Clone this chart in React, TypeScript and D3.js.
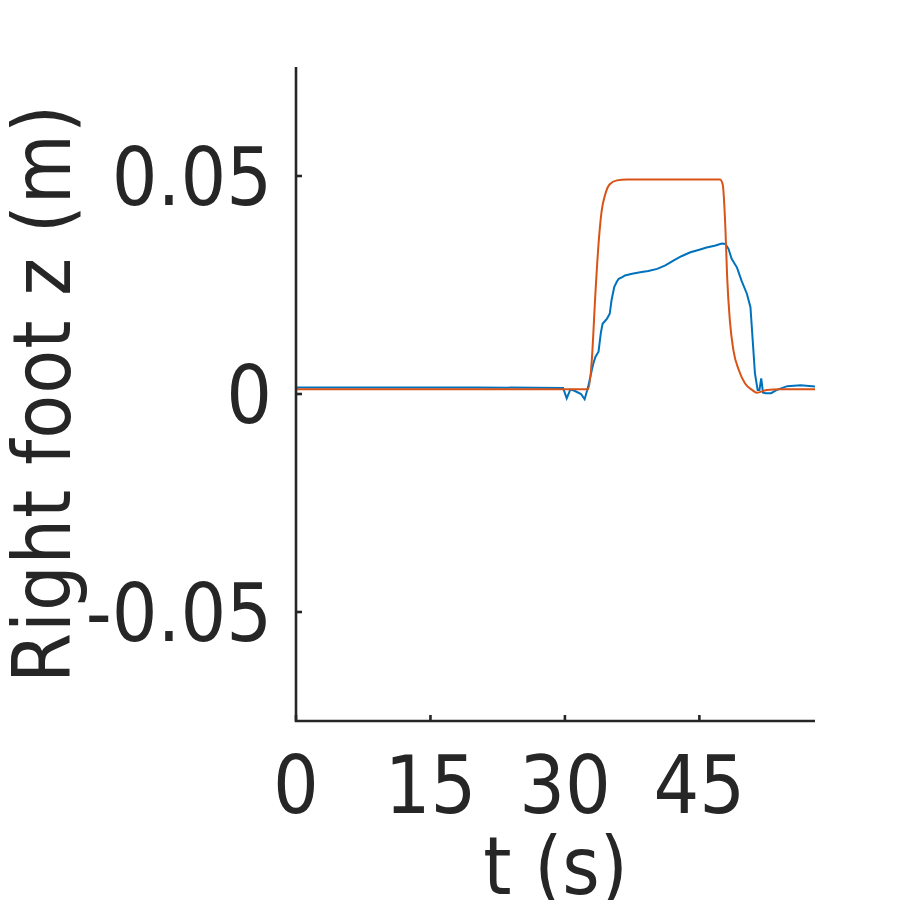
import React from "react";
import * as d3 from "d3";

// reference trajectory (orange)
const refT = [0, 32.6, 33.0, 33.4, 33.75, 34.1, 34.5, 35.0, 35.8, 36.9, 47.3, 47.6, 47.9, 48.1, 48.4, 48.8, 49.4, 50.1, 50.9, 51.4, 52.5, 54.0, 57.9];
const refZ = [0.0011, 0.0011, 0.0078, 0.023, 0.0344, 0.042, 0.0458, 0.0481, 0.049, 0.0492, 0.0492, 0.0481, 0.0382, 0.0268, 0.0169, 0.010, 0.0055, 0.0024, 0.0009, 0.0003, 0.0009, 0.0011, 0.0011];

// measured foot height (blue)
const measT = [0, 10, 20, 29.8, 30.2, 30.6, 31.0, 31.4, 31.8, 32.2, 32.6, 33.0, 33.2, 33.4, 33.75, 34.0, 34.2, 34.5, 34.7, 35.0, 35.2, 35.5, 35.8, 36.0, 36.4, 36.7, 37.5, 38.4, 39.3, 40.3, 41.2, 42.1, 43.0, 44.0, 45.0, 45.8, 46.7, 47.5, 47.9, 48.25, 48.6, 49.2, 49.7, 50.3, 50.7, 51.0, 51.2, 51.5, 51.7, 51.9, 52.1, 52.4, 53.0, 53.6, 54.8, 56.3, 57.9];
const measZ = [0.0015, 0.0015, 0.0015, 0.0014, -0.001, 0.001, 0.0008, 0.0004, 0.0, -0.0012, 0.0017, 0.0055, 0.0072, 0.0085, 0.0097, 0.0139, 0.0161, 0.0168, 0.0173, 0.0184, 0.0215, 0.0245, 0.0258, 0.0264, 0.0268, 0.0272, 0.0276, 0.0279, 0.0282, 0.0287, 0.0295, 0.0306, 0.0316, 0.0325, 0.0331, 0.0336, 0.034, 0.0345, 0.0344, 0.0333, 0.031, 0.029, 0.026, 0.023, 0.0199, 0.0108, 0.0047, 0.0009, 0.0009, 0.0036, 0.0003, 0.0002, 0.0002, 0.0009, 0.0018, 0.002, 0.0017];

const xTicks = [0, 15, 30, 45];
const yTicks = [-0.05, 0, 0.05];
const yTickLabels = ["-0.05", "0", "0.05"];

const axisColor = "#262626";
const font = "'DejaVu Sans Condensed', 'DejaVu Sans', sans-serif";
const fontSize = 80;

export default function App() {
  const width = 900;
  const height = 900;
  const left = 296;
  const right = 815;
  const top = 67;
  const bottom = 721;

  const x = d3.scaleLinear().domain([0, 57.9]).range([left, right]);
  const y = d3.scaleLinear().domain([-0.075, 0.075]).range([bottom, top]);

  const refLine = d3
    .line<number>()
    .x((d, i) => x(refT[i]))
    .y((d) => y(d))
    .curve(d3.curveMonotoneX);

  const measLine = d3
    .line<number>()
    .x((d, i) => x(measT[i]))
    .y((d) => y(d));

  return (
    <svg
      width={width}
      height={height}
      style={{ position: "absolute", left: 0, top: 0, background: "#fff" }}
    >
      <defs>
        <clipPath id="plot">
          <rect x={left} y={top} width={right - left} height={bottom - top} />
        </clipPath>
      </defs>

      <g clipPath="url(#plot)">
        <path d={measLine(measZ) ?? ""} fill="none" stroke="#0072BD" strokeWidth={2} />
        <path d={refLine(refZ) ?? ""} fill="none" stroke="#D95319" strokeWidth={2} />
      </g>

      {/* axes */}
      <path
        d={`M${left},${top}V${bottom}H${right}`}
        fill="none"
        stroke={axisColor}
        strokeWidth={2.6}
      />
      {xTicks.map((t) => (
        <g key={"x" + t}>
          <line x1={x(t)} x2={x(t)} y1={bottom} y2={bottom - 6} stroke={axisColor} strokeWidth={2.6} />
          <text
            x={x(t)}
            y={813}
            textAnchor="middle"
            fontFamily={font}
            fontSize={fontSize}
            fill={axisColor}
          >
            {t}
          </text>
        </g>
      ))}
      {yTicks.map((t, i) => (
        <g key={"y" + t}>
          <line x1={left} x2={left + 6} y1={y(t)} y2={y(t)} stroke={axisColor} strokeWidth={2.6} />
          <text
            x={272}
            y={y(t) + 29}
            textAnchor="end"
            fontFamily={font}
            fontSize={fontSize}
            fill={axisColor}
          >
            {yTickLabels[i]}
          </text>
        </g>
      ))}

      <text
        x={(left + right) / 2}
        y={894}
        textAnchor="middle"
        fontFamily={font}
        fontSize={fontSize}
        fill={axisColor}
      >
        t (s)
      </text>
      <text
        transform={`translate(70,${(top + bottom) / 2}) rotate(-90)`}
        textAnchor="middle"
        fontFamily={font}
        fontSize={fontSize}
        fill={axisColor}
        textLength={578}
        lengthAdjust="spacing"
      >
        Right foot z (m)
      </text>
    </svg>
  );
}
